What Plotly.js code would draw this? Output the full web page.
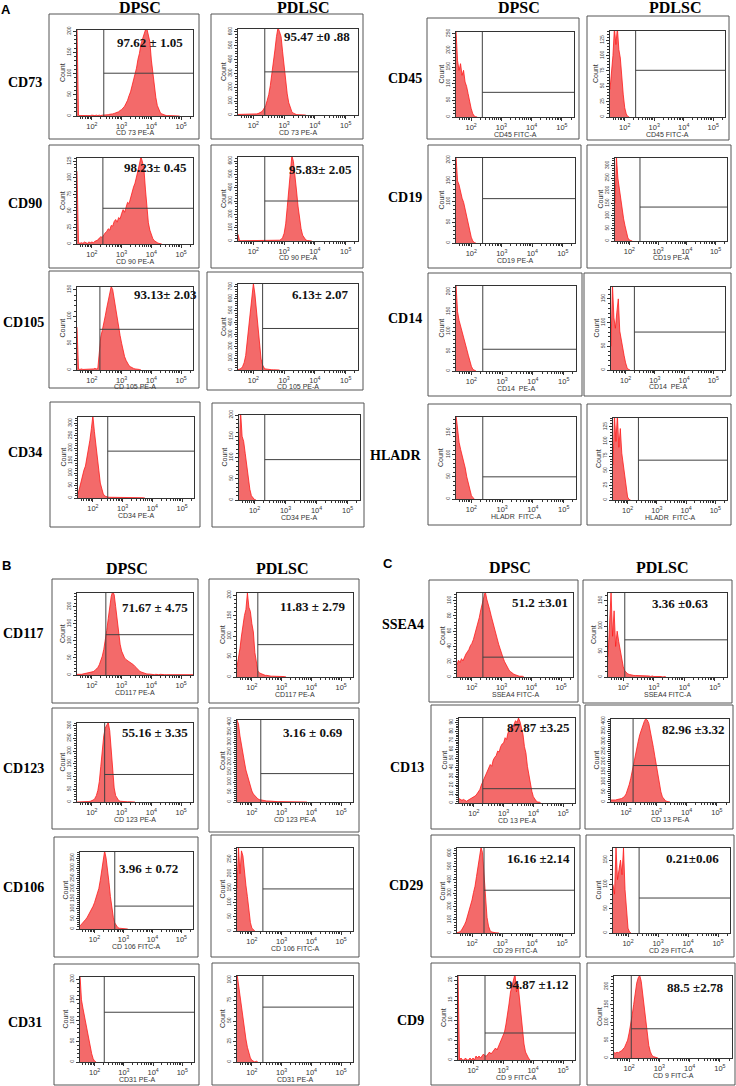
<!DOCTYPE html>
<html><head><meta charset="utf-8">
<script src="https://cdn.plot.ly/plotly-3.0.1.min.js"></script>
<style>html,body{margin:0;padding:0;background:#fff}#chart{width:736px;height:1086px}</style>
</head><body><div id="chart"></div>
<script>
// Fluorescence bins (log10 units)
const LOG_BINS = [1.50,1.55,1.60,1.65,1.70,1.75,1.80,1.85,1.90,1.95,
 2.00,2.05,2.10,2.15,2.20,2.25,2.30,2.35,2.40,2.45,
 2.50,2.55,2.60,2.65,2.70,2.75,2.80,2.85,2.90,2.95,
 3.00,3.05,3.10,3.15,3.20,3.25,3.30,3.35,3.40,3.45,
 3.50,3.55,3.60,3.65,3.70,3.75,3.80,3.85,3.90,3.95,
 4.00,4.05,4.10,4.15,4.20,4.25,4.30,4.35,4.40,4.45,
 4.50,4.55,4.60,4.65,4.70,4.75,4.80,4.85,4.90,4.95,
 5.00,5.05,5.10,5.15,5.20,5.25,5.30,5.35,5.40];

// Histogram counts per marker / cell type
const CD73_DPSC = [210,2,1,1,0,1,1,0,1,1, 2,1,1,2,1,2,1,2,2,3, 3,3,4,4,5,6,7,9,10,13, 15,19,23,30,37,48,57,71,83,100, 113,134,148,170,181,197,203,206,192,175, 132,100,64,44,25,16,8,5,3,2, 1,1,1,0,1,0,0,1,0,0];
const CD73_PDLSC = [4,4,3,5,3,4,3,5,4,6, 5,6,8,10,14,21,30,46,68,106, 148,212,288,385,468,565,630,600,565,455, 355,236,152,88,52,24,13,6,3,2, 1,1,0,1,0];
const CD45_DPSC = [260,170,140,160,125,140,105,92,70,46,26,11,3,1,0];
const CD45_PDLSC = [45,70,100,145,118,145,110,96,60,36,15,5,1,0];
const CD90_DPSC = [110,2,1,2,1,3,2,1,3,2, 3,2,4,5,6,9,11,10,14,17, 19,23,21,28,27,34,37,33,40,38, 46,52,48,57,63,61,70,76,86,92, 104,111,121,132,124,114,83,57,32,21, 13,8,5,3,2,1,1,0];
const CD90_PDLSC = [50,3,2,2,3,2,2,3,2,3, 2,2,3,2,2,3,2,2,3,2, 2,3,3,2,3,3,4,6,11,26, 58,128,252,398,565,640,598,505,382,262, 158,92,44,21,9,4,2,1,0];
const CD105_DPSC = [80,2,1,2,1,1,2,1,2,1, 2,2,3,2,3,40,62,74,92,101, 116,130,142,156,150,132,112,98,80,64, 50,36,25,18,12,8,6,4,3,2, 2,1,1,0];
const CD105_PDLSC = [3,5,12,30,62,122,250,385,520,655, 730,640,485,330,205,92,42,16,9,6, 4,3,2,2,1,1,1,0];
const CD19_DPSC = [210,150,140,122,108,98,80,62,44,30,14,5,1,0];
const CD19_PDLSC = [150,335,250,205,160,120,88,60,32,12,4,1,0];
const CD14_DPSC = [220,150,128,112,95,84,70,55,40,25,12,4,1,0];
const CD14_PDLSC = [50,180,110,88,122,150,82,62,45,30,15,5,1,0];
const CD34_DPSC = [15,42,62,88,112,128,162,188,232,278, 330,268,222,168,112,60,31,16,8,5, 4,3,3,4,3,2,3,2,2,3, 2,2,1,2,2,1,2,2,3,2, 3,2,1,1,1,0];
const CD34_PDLSC = [100,210,150,138,110,80,50,25,10,4,1,0];
const HLADR_DPSC = [190,150,128,112,100,84,70,50,35,20,8,3,0];
const HLADR_PDLSC = [60,145,100,145,90,122,80,60,35,15,5,1,0];
const CD117_DPSC = [2,1,2,2,3,2,3,4,5,6, 8,10,13,17,22,30,40,55,75,100, 130,165,200,230,245,235,200,160,120,90, 70,58,50,45,42,40,38,34,30,25, 20,16,12,9,7,5,4,3,3,2, 2,2,1,2,1,1,2,1,1,1, 1,1,0,1,1,0,1,1,0,1, 1,0,1,1,1,1,1,1,1];
const CD117_PDLSC = [25,45,70,100,130,150,165,205,170,160, 130,110,60,30,15,10,8,6,5,4, 4,3,3,2,2,2,1,2,1,1, 1,1,1,0];
const CD123_DPSC = [0,0,1,0,1,1,1,2,2,3, 5,8,14,25,45,80,140,210,260,290, 300,312,280,200,110,55,25,12,6,3, 2,2,1,1,1,1,1,0,1,0];
const CD123_PDLSC = [410,390,330,280,240,200,160,130,100,75, 55,40,30,22,16,12,10,8,7,6, 5,5,4,4,3,3,3,2,2,2, 2,2,2,1,2,1,1,1,1,1, 1,1,0,1,1,0,1,0];
const CD106_DPSC = [15,22,30,38,48,58,70,84,100,112, 130,150,172,200,240,282,330,385,350,300, 230,160,100,58,30,15,8,4,3,2, 1,1,1,0];
const CD106_PDLSC = [150,295,200,280,262,200,160,120,70,30,10,3,0];
const CD31_DPSC = [210,150,130,110,95,80,60,40,20,8,2,0];
const CD31_PDLSC = [108,95,80,65,50,40,28,18,10,5,2,1,0,1,0];
const SSEA4_DPSC = [16,22,19,24,21,27,30,33,36,41, 44,49,56,62,71,78,88,97,108,112, 102,96,88,80,72,64,57,49,43,37, 30,25,20,16,12,9,7,5,4,3, 2,2,1,1,1,0];
const SSEA4_PDLSC = [40,100,165,80,130,60,90,70,50,35, 20,12,8,6,5,4,4,3,3,3, 2,3,2,2,2,3,2,2,1,2, 1,1,2,1,1,1,0,1,0];
const CD13_DPSC = [5,4,3,4,3,2,3,4,5,6, 7,8,10,12,15,20,24,28,32,35, 38,43,41,48,51,53,58,57,63,66, 67,73,71,79,80,86,84,89,92,90, 95,91,84,77,63,56,41,31,19,13, 7,4,2,1,1,0];
const CD13_PDLSC = [10,9,8,10,12,13,15,17,22,28, 40,60,85,115,155,190,228,262,300,332, 358,385,398,412,405,388,352,318,270,225, 185,130,85,50,25,12,6,3,1,0];
const CD29_DPSC = [2,6,9,22,38,62,88,124,158,205, 248,305,352,425,498,575,645,605,420,248, 118,52,20,8,4,2,1,1,0];
const CD29_PDLSC = [100,80,175,110,130,150,120,175,90,40,10,2,0];
const CD9_DPSC = [22,0,0.5,0,0,0.5,0,0,0.5,0, 0.5,0,1,0.5,1,0.5,1,1.5,1,1, 1.5,2,1.5,2,2.5,3,2.5,3.5,4,5, 6,7,9,11,14,17,19,20,21.5,17, 19,15,11,7,4,2,1,0.5,0];
const CD9_PDLSC = [15,14,16,15,18,20,25,30,40,50, 70,90,120,150,180,210,225,232,215,180, 140,100,60,35,18,8,4,2,1,0];

const COUNTS = [CD73_DPSC,CD73_PDLSC,CD45_DPSC,CD45_PDLSC,CD90_DPSC,CD90_PDLSC,CD105_DPSC,CD105_PDLSC,
 CD19_DPSC,CD19_PDLSC,CD14_DPSC,CD14_PDLSC,CD34_DPSC,CD34_PDLSC,HLADR_DPSC,HLADR_PDLSC,
 CD117_DPSC,CD117_PDLSC,CD123_DPSC,CD123_PDLSC,CD106_DPSC,CD106_PDLSC,CD31_DPSC,CD31_PDLSC,
 SSEA4_DPSC,SSEA4_PDLSC,CD13_DPSC,CD13_PDLSC,CD29_DPSC,CD29_PDLSC,CD9_DPSC,CD9_PDLSC];

// Y axis maxima and tick steps
const Y_MAX = [203,620,255,140,130,630,155,725, 205,330,215,175,325,200,185,140, 240,205,310,410,380,290,205,105, 110,165,95,410,640,175,21,230];
const Y_STEP = [50,100,50,25,25,100,50,100, 50,50,50,50,50,50,50,25, 50,50,50,50,50,50,50,25, 20,50,10,50,100,50,5,50];
// Gate (log10) and horizontal marker line (count)
const GATE_LOG = [2.4,2.37,2.37,2.37,2.37,2.37,2.27,2.3, 2.37,2.37,2.37,2.3,2.5,2.33,2.37,2.37, 2.47,2.2,2.43,2.3,2.7,2.37,2.33,2.37, 2.37,2.05,2.3,2.23,2.4,2.37,2.4,2.07];
const HLINE = [101,311,74,76,54,300,76,350, 107,135,55,80,188,95,50,68, 118,79,108,142,113,147,120,67, 26,73,16,180,322,72,6.75,82];
// Axis titles
const X_TITLES = ['CD 73 PE-A','CD 73 PE-A','CD45 FITC-A','CD45 FITC-A','CD 90 PE-A','CD 90 PE-A','CD 105 PE-A','CD 105 PE-A',
 'CD19 PE-A','CD19 PE-A','CD14  PE-A','CD14  PE-A','CD34 PE-A','CD34 PE-A','HLADR  FITC-A','HLADR  FITC-A',
 'CD117 PE-A','CD117 PE-A','CD 123 PE-A','CD 123 PE-A','CD 106 FITC-A','CD 106 FITC-A','CD31 PE-A','CD31 PE-A',
 'SSEA4 FITC-A','SSEA4 FITC-A','CD 13 PE-A','CD 13 PE-A','CD 29 FITC-A','CD 29 FITC-A','CD 9 FITC-A','CD 9 FITC-A'];
// Percent positive labels
const PCT_TEXT = ['97.62 ± 1.05','95.47 ±0 .88',null,null,'98.23± 0.45','95.83± 2.05','93.13± 2.03','6.13± 2.07',
 null,null,null,null,null,null,null,null,
 '71.67 ± 4.75','11.83 ± 2.79','55.16 ± 3.35','3.16 ± 0.69','3.96 ± 0.72',null,null,null,
 '51.2 ±3.01','3.36 ±0.63','87.87 ±3.25','82.96 ±3.32','16.16 ±2.14','0.21±0.06','94.87 ±1.12','88.5 ±2.78'];
const ROW_LABELS = ['CD73','CD90','CD105','CD34','CD45','CD19','CD14','HLADR','CD117','CD123','CD106','CD31','SSEA4','CD13','CD29','CD9'];
const COL_HEADERS = ['DPSC','PDLSC'];
const PANEL_LETTERS = ['A','B','C'];

// ---------- layout geometry (pixels) ----------
const W = 736, H = 1086;
const FRAMES = [[49,14,199,139],[211,14,363,139],[427,18,579,139],[587,16,729,140],
 [49,145,199,268],[211,145,363,268],[49,271,199,388],[207,272,363,390],
 [428,145,581,268],[587,145,731,268],[428,273,582,396],[584,273,731,396],
 [50,402,200,527],[212,403,364,527],[428,404,581,525],[587,404,731,525],
 [52,579,198,703],[209,579,359,703],[52,708,198,829],[209,708,359,832],
 [54,837,198,957],[211,835,359,957],[54,964,199,1085],[212,963,359,1085],
 [429,580,578,702],[583,580,732,703],[431,705,580,829],[585,705,733,829],
 [431,835,580,957],[586,835,734,957],[431,963,580,1085],[587,963,735,1085]];
const PLOTS = [[77,30,193,116],[238,29,358,115],[456,32,574,117],[610,31,725,117],
 [77,158,193,244],[238,157,358,241],[77,287,193,370],[238,284,358,370],
 [456,158,575,243],[615,158,727,241],[456,286,576,371],[611,287,725,370],
 [78,417,194,498],[239,415,360,500],[456,417,576,499],[613,418,727,500],
 [77,593,193,675],[237,593,353,677],[77,723,193,802],[237,720,353,802],
 [80,852,193,929],[237,848,353,931],[80,977,194,1062],[237,976,353,1062],
 [457,593,573,677],[608,593,727,677],[459,718,575,803],[611,719,729,802],
 [457,848,574,933],[613,848,730,933],[458,976,575,1060],[614,976,732,1058]];
const PCT_POS = [[150,43],[317,37],null,null,[155,167],[320,169],[165,295],[320,295],
 null,null,null,null,null,null,null,null,
 [155,607],[312,606],[155,732],[313,732],[148,868],null,null,null,
 [540,602],[680,603],[538,727],[693,729],[538,858],[692,858],[537,984],[695,987]];
const ROW_POS = [[25,83],[25,203],[23,322],[25,452],[405,78],[405,197],[405,318],[396,455],
 [23,633],[23,768],[23,887],[25,1022],[403,624],[407,767],[406,885],[410,1020]];
const HEADER_POS = [[140,8],[303,8],[519,8],[675,8],[127,568],[282,568],[510,567],[662,567]];
const LETTER_POS = [[6,10],[6,565],[388,563]];

const LOG_MIN = 1.5, LOG_MAX = 5.4;
const fx = x => x / W, fy = y => 1 - y / H;
const SERIF = 'Liberation Serif, Times New Roman, serif';
const SANS = 'Liberation Sans, Arial, sans-serif';

const traces = [];
const layout = {width: W, height: H, margin: {l:0,r:0,t:0,b:0}, showlegend: false,
  paper_bgcolor: '#fff', plot_bgcolor: '#fff', shapes: [], annotations: []};

COUNTS.forEach((counts, i) => {
  const n = i + 1, sfx = n === 1 ? '' : String(n);
  const xa = 'x' + sfx, ya = 'y' + sfx;
  const [x0, y0, x1, y1] = PLOTS[i];
  layout['xaxis' + sfx] = {domain: [fx(x0), fx(x1)], anchor: ya, type: 'log', range: [LOG_MIN, LOG_MAX],
    dtick: 1, exponentformat: 'power', showexponent: 'all',
    ticks: 'outside', ticklen: 3, tickwidth: 1, tickcolor: '#333',
    showline: true, linecolor: '#333', linewidth: 1, mirror: true, showgrid: false, zeroline: false,
    tickfont: {size: 6, family: SANS, color: '#333'},
    minor: {ticks: 'outside', ticklen: 2, tickcolor: '#333', showgrid: false}, fixedrange: true};
  layout['yaxis' + sfx] = {domain: [fy(y1), fy(y0)], anchor: xa, range: [0, Y_MAX[i]], dtick: Y_STEP[i],
    ticks: 'outside', ticklen: 3, tickwidth: 1, tickcolor: '#333', tickangle: -90,
    showline: true, linecolor: '#333', linewidth: 1, mirror: true, showgrid: false, zeroline: false,
    tickfont: {size: 5, family: SANS, color: '#333'},
    minor: {ticks: 'outside', ticklen: 2, tickcolor: '#333', dtick: Y_STEP[i] / 5, showgrid: false}, fixedrange: true};
  traces.push({type: 'scatter', mode: 'lines', xaxis: xa, yaxis: ya,
    x: counts.map((c, j) => Math.pow(10, LOG_BINS[j])), y: counts,
    line: {color: '#ff1a1a', width: 0.8}, fill: 'tozeroy', fillcolor: '#f36a6a', hoverinfo: 'skip'});
  const g = Math.pow(10, GATE_LOG[i]);
  traces.push({type: 'scatter', mode: 'lines', xaxis: xa, yaxis: ya, x: [g, g], y: [0, Y_MAX[i]],
    line: {color: '#404040', width: 1}, hoverinfo: 'skip'});
  traces.push({type: 'scatter', mode: 'lines', xaxis: xa, yaxis: ya, x: [g, Math.pow(10, LOG_MAX)], y: [HLINE[i], HLINE[i]],
    line: {color: '#404040', width: 1}, hoverinfo: 'skip'});
  // outer frame
  const f = FRAMES[i];
  layout.shapes.push({type: 'rect', xref: 'paper', yref: 'paper', x0: fx(f[0]), x1: fx(f[2]), y0: fy(f[3]), y1: fy(f[1]),
    line: {color: '#555', width: 1}});
  // axis titles
  layout.annotations.push({xref: 'paper', yref: 'paper', x: fx((x0 + x1) / 2), y: fy(y1 + 17), text: X_TITLES[i],
    showarrow: false, font: {size: 7, family: SANS, color: '#333'}, xanchor: 'center', yanchor: 'middle'});
  layout.annotations.push({xref: 'paper', yref: 'paper', x: fx(x0 - 15), y: fy((y0 + y1) / 2), text: 'Count',
    textangle: -90, showarrow: false, font: {size: 7, family: SANS, color: '#333'}, xanchor: 'center', yanchor: 'middle'});
  if (PCT_TEXT[i]) {
    layout.annotations.push({xref: 'paper', yref: 'paper', x: fx(PCT_POS[i][0]), y: fy(PCT_POS[i][1]),
      text: '<b>' + PCT_TEXT[i] + '</b>', showarrow: false, font: {size: 13, family: SERIF, color: '#111'},
      xanchor: 'center', yanchor: 'middle'});
  }
});

ROW_LABELS.forEach((t, k) => layout.annotations.push({xref: 'paper', yref: 'paper', x: fx(ROW_POS[k][0]), y: fy(ROW_POS[k][1]),
  text: '<b>' + t + '</b>', showarrow: false, font: {size: 14, family: SERIF, color: '#000'}, xanchor: 'center', yanchor: 'middle'}));
HEADER_POS.forEach((p, k) => layout.annotations.push({xref: 'paper', yref: 'paper', x: fx(p[0]), y: fy(p[1]),
  text: '<b>' + COL_HEADERS[k % 2] + '</b>', showarrow: false, font: {size: 16, family: SERIF, color: '#000'}, xanchor: 'center', yanchor: 'middle'}));
PANEL_LETTERS.forEach((t, k) => layout.annotations.push({xref: 'paper', yref: 'paper', x: fx(LETTER_POS[k][0]), y: fy(LETTER_POS[k][1]),
  text: '<b>' + t + '</b>', showarrow: false, font: {size: 13, family: SANS, color: '#000'}, xanchor: 'center', yanchor: 'middle'}));

Plotly.newPlot('chart', traces, layout, {staticPlot: true, displayModeBar: false});
</script></body></html>
